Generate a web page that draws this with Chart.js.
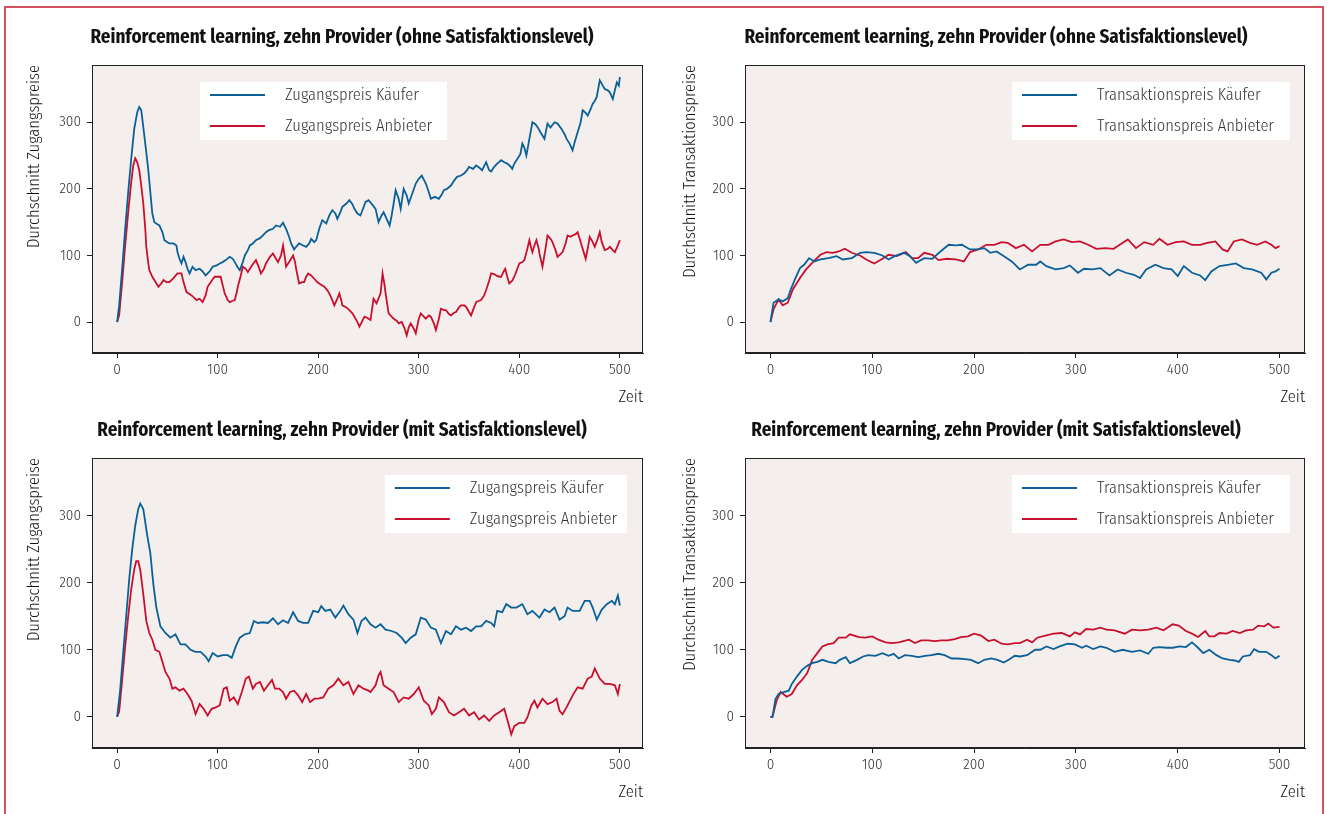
<!DOCTYPE html>
<html>
<head>
<meta charset="utf-8">
<script src="https://cdn.jsdelivr.net/npm/chart.js@4.4.1/dist/chart.umd.min.js"></script>
<style>
  body { margin: 0; width: 1330px; height: 814px; background: #fff; position: relative; overflow: hidden; }
  .frame { position: absolute; left: 4px; top: 6px; width: 1316px; height: 830px; border: 2px solid #d4505c; }
  canvas { position: absolute; }
</style>
</head>
<body>
<div class="frame"></div>
<canvas id="c1" width="665" height="410" style="left:0;top:0"></canvas>
<canvas id="c2" width="665" height="410" style="left:665px;top:0"></canvas>
<canvas id="c3" width="665" height="420" style="left:0;top:394px"></canvas>
<canvas id="c4" width="665" height="420" style="left:665px;top:394px"></canvas>
<script>
const xTicks = [0, 100, 200, 300, 400, 500];
const yTicks = [0, 100, 200, 300];

const titelOhne = 'Reinforcement learning, zehn Provider (ohne Satisfaktionslevel)';
const titelMit = 'Reinforcement learning, zehn Provider (mit Satisfaktionslevel)';

// [Zeit, Wert] – oben links
const zugKaeuferOhne = [[0,0],[2,25],[5,80],[8,140],[11,195],[14,245],[17,290],[20,315],[22,323],[24,318],[26,293],[29,255],[31,228],[33,195],[35,163],[37,150],[40,147],[42,145],[45,135],[47,123],[50,120],[52,118],[56,118],[59,115],[60,105],[62,95],[64,88],[66,98],[68,90],[70,80],[72,73],[75,83],[78,78],[82,80],[85,76],[88,70],[92,76],[95,83],[99,85],[102,88],[105,90],[108,93],[112,98],[115,95],[117,90],[120,82],[122,78],[125,90],[127,100],[130,108],[132,115],[135,118],[138,123],[142,126],[145,130],[148,135],[151,138],[155,140],[158,145],[162,143],[165,149],[168,140],[171,128],[173,118],[176,109],[178,113],[181,118],[185,115],[188,113],[191,118],[193,125],[196,120],[198,123],[201,140],[204,153],[208,148],[211,160],[214,168],[217,163],[219,155],[222,165],[224,173],[228,178],[231,183],[234,177],[236,170],[239,163],[242,160],[245,172],[247,180],[250,183],[254,176],[257,170],[260,150],[263,160],[265,165],[268,155],[271,145],[273,160],[275,178],[277,198],[280,185],[282,170],[285,200],[288,190],[290,178],[294,195],[297,208],[300,215],[303,220],[305,214],[307,208],[310,195],[312,185],[316,188],[320,185],[323,192],[325,198],[328,200],[332,205],[335,212],[338,218],[342,220],[345,223],[348,228],[350,233],[354,230],[357,235],[360,232],[363,228],[365,234],[367,240],[370,228],[372,226],[375,233],[378,238],[382,243],[385,240],[388,238],[391,234],[393,230],[395,238],[398,245],[401,252],[403,268],[405,262],[407,250],[410,275],[413,300],[416,297],[418,293],[421,285],[423,280],[425,275],[428,298],[431,292],[435,300],[438,298],[442,290],[445,282],[447,275],[450,268],[453,258],[455,270],[458,285],[461,300],[463,318],[466,314],[468,310],[471,320],[473,328],[475,332],[477,338],[480,363],[483,355],[485,350],[488,348],[490,345],[493,335],[495,348],[497,360],[499,355],[500,368]];
const zugAnbieterOhne = [[0,0],[2,10],[5,60],[8,115],[11,165],[14,210],[16,235],[18,246],[20,240],[22,228],[24,205],[26,178],[28,140],[29,113],[31,88],[32,78],[35,68],[37,63],[41,53],[44,58],[46,63],[49,60],[52,60],[56,66],[60,73],[64,73],[66,60],[69,45],[72,42],[74,40],[77,36],[79,33],[82,35],[85,30],[88,40],[90,53],[94,62],[97,68],[100,68],[103,68],[105,55],[107,43],[110,33],[112,30],[115,32],[117,33],[119,45],[120,53],[123,70],[125,83],[128,80],[130,75],[134,85],[138,93],[141,82],[143,73],[146,80],[148,88],[152,98],[155,103],[158,95],[160,90],[163,100],[165,115],[167,95],[168,83],[171,90],[175,100],[177,90],[178,80],[180,65],[181,58],[184,60],[186,60],[188,68],[190,73],[193,70],[196,65],[199,60],[201,58],[204,55],[206,53],[209,48],[211,43],[214,33],[216,25],[219,35],[221,43],[223,32],[224,25],[228,22],[231,18],[234,13],[236,8],[239,0],[241,-7],[244,2],[246,8],[249,6],[252,3],[255,35],[258,28],[262,43],[264,73],[266,55],[267,43],[270,13],[273,8],[275,5],[278,2],[280,-2],[283,0],[286,-10],[288,-20],[290,-8],[292,-2],[295,-10],[297,-17],[300,5],[302,13],[305,8],[307,5],[310,10],[312,8],[315,-2],[317,-12],[320,5],[322,20],[325,18],[327,18],[330,12],[332,10],[335,14],[337,15],[340,22],[342,25],[345,25],[347,23],[350,15],[352,10],[355,22],[357,30],[360,32],[362,33],[365,40],[367,48],[370,62],[372,73],[375,72],[377,70],[380,68],[382,68],[384,75],[386,80],[388,68],[390,58],[393,62],[395,68],[398,80],[400,88],[403,90],[405,93],[408,110],[410,123],[412,110],[413,105],[415,115],[417,123],[419,112],[420,103],[422,90],[423,83],[426,110],[428,130],[431,125],[433,120],[436,108],[438,98],[441,102],[443,105],[446,118],[448,130],[451,128],[453,130],[456,132],[458,135],[460,125],[462,115],[464,105],[466,95],[468,110],[470,128],[473,120],[475,113],[478,125],[480,135],[482,120],[485,108],[488,110],[490,113],[493,108],[495,105],[498,115],[500,123]];

// oben rechts
const transKaeuferOhne = [[0,0],[3,29],[8,34],[12,31],[17,36],[20,49],[24,64],[29,81],[33,86],[38,96],[43,91],[49,94],[57,96],[65,99],[71,94],[80,96],[88,104],[94,105],[102,104],[110,100],[116,94],[122,99],[131,104],[137,99],[143,89],[151,96],[159,95],[167,106],[175,116],[182,115],[188,116],[196,109],[204,109],[210,111],[216,104],[222,106],[229,99],[237,91],[245,79],[253,86],[261,86],[265,91],[271,84],[280,79],[288,81],[294,85],[302,74],[308,80],[316,79],[324,81],[333,70],[341,79],[349,74],[357,71],[363,66],[369,79],[378,86],[386,81],[394,79],[400,69],[406,84],[414,74],[422,70],[427,63],[433,76],[441,84],[449,86],[457,88],[465,81],[473,79],[482,74],[487,64],[492,74],[496,76],[500,80]];
const transAnbieterOhne = [[0,0],[3,19],[8,34],[12,25],[17,29],[22,49],[29,66],[35,79],[41,89],[49,101],[55,105],[61,104],[67,106],[73,110],[80,104],[88,100],[94,94],[102,88],[110,95],[116,101],[124,99],[133,105],[139,96],[145,96],[151,104],[159,101],[165,93],[173,95],[182,94],[190,91],[196,105],[204,109],[212,116],[220,116],[227,120],[233,119],[241,111],[249,116],[257,106],[265,116],[273,116],[280,121],[288,124],[296,120],[304,121],[312,116],[320,110],[329,111],[337,110],[343,116],[351,124],[359,111],[367,120],[376,116],[382,125],[390,116],[398,120],[406,121],[414,116],[422,116],[429,119],[437,121],[444,109],[449,106],[455,121],[463,124],[471,119],[478,116],[486,121],[492,116],[496,111],[500,114]];

// unten links
const zugKaeuferMit = [[0,0],[3,40],[6,95],[9,150],[12,205],[15,250],[18,285],[21,310],[23,318],[26,310],[28,290],[30,270],[33,244],[36,198],[39,163],[43,135],[48,125],[53,118],[58,123],[63,108],[68,108],[73,100],[78,97],[83,97],[88,90],[91,83],[95,95],[100,90],[105,92],[110,92],[114,88],[118,105],[122,118],[127,123],[132,125],[136,143],[140,140],[145,141],[150,140],[155,147],[160,138],[165,144],[170,140],[175,156],[180,143],[185,140],[190,140],[195,158],[200,156],[203,165],[207,158],[212,160],[217,148],[222,158],[225,166],[230,153],[235,145],[239,125],[243,143],[247,148],[252,138],[257,133],[262,138],[267,130],[273,128],[278,125],[283,118],[287,110],[292,118],[297,123],[302,148],[307,145],[312,133],[317,130],[322,110],[327,128],[332,123],[337,135],[342,130],[347,133],[352,128],[357,135],[362,135],[367,143],[372,140],[375,135],[378,158],[383,156],[387,168],[392,163],[397,163],[403,168],[408,153],[413,158],[420,148],[425,160],[430,156],[435,163],[440,145],[445,150],[448,163],[453,158],[460,158],[465,173],[470,173],[473,163],[477,145],[482,160],[487,168],[492,173],[495,168],[498,181],[500,166]];
const zugAnbieterMit = [[0,0],[2,8],[5,55],[8,105],[11,150],[14,190],[17,220],[19,232],[21,232],[23,219],[26,183],[29,143],[32,125],[35,115],[38,100],[42,97],[45,82],[48,67],[52,57],[55,42],[58,44],[62,39],[66,42],[70,34],[74,24],[78,4],[82,19],[86,12],[90,2],[94,12],[98,14],[102,17],[106,42],[109,44],[112,24],[116,29],[120,19],[124,37],[128,57],[131,60],[135,42],[138,49],[142,52],[146,39],[150,47],[154,55],[157,42],[161,42],[165,37],[168,27],[172,37],[176,39],[180,32],[184,22],[188,34],[192,22],[196,27],[200,27],[205,29],[210,42],[215,47],[220,57],[225,47],[230,52],[235,34],[240,47],[245,42],[250,39],[252,37],[257,47],[260,62],[262,67],[265,47],[270,42],[275,37],[280,22],[285,29],[290,27],[295,34],[300,44],[305,24],[310,17],[313,4],[317,12],[320,29],[325,22],[330,7],[335,2],[340,7],[345,12],[350,2],[355,7],[360,-4],[365,2],[370,-6],[375,2],[380,7],[385,12],[388,-4],[392,-26],[395,-14],[400,-9],[405,-9],[408,-1],[412,17],[415,24],[418,14],[423,27],[428,19],[433,22],[437,27],[440,9],[443,4],[448,17],[453,32],[458,44],[463,42],[468,57],[472,60],[475,72],[480,57],[485,49],[490,49],[495,47],[498,34],[500,49]];

// unten rechts
const transKaeuferMit = [[0,0],[2,0],[5,27],[8,34],[13,37],[18,39],[21,49],[26,60],[31,70],[36,76],[41,80],[46,82],[51,85],[57,82],[64,80],[68,85],[74,89],[78,80],[85,85],[91,90],[96,92],[103,91],[110,95],[116,91],[121,94],[126,87],[132,92],[139,91],[145,89],[152,91],[158,92],[165,94],[171,92],[178,87],[184,87],[191,86],[197,85],[204,80],[210,85],[217,87],[223,85],[229,81],[234,85],[240,91],[245,90],[252,92],[260,100],[265,100],[271,105],[278,101],[284,105],[292,109],[299,108],[306,103],[310,106],[317,101],[324,105],[330,103],[338,97],[346,100],[355,97],[363,99],[371,94],[376,103],[382,104],[389,103],[395,103],[402,105],[408,104],[414,111],[420,103],[425,95],[431,100],[438,92],[444,87],[451,85],[456,84],[460,82],[464,90],[471,92],[475,101],[480,97],[487,97],[492,92],[496,87],[500,91]];
const transAnbieterMit = [[0,0],[2,0],[6,24],[10,37],[16,30],[21,34],[26,47],[31,55],[36,65],[41,85],[46,95],[51,105],[56,108],[62,110],[67,118],[74,118],[78,123],[87,119],[93,118],[100,120],[106,115],[113,111],[119,110],[126,111],[136,115],[142,110],[148,114],[155,114],[161,113],[168,114],[174,114],[181,116],[187,119],[194,120],[200,124],[207,121],[214,113],[220,115],[227,109],[233,108],[240,110],[245,110],[252,115],[257,111],[262,118],[270,121],[278,124],[286,125],[294,120],[299,126],[304,123],[310,131],[317,130],[324,133],[330,130],[338,129],[348,124],[355,130],[363,129],[371,130],[379,133],[386,129],[395,138],[401,136],[408,128],[414,124],[420,119],[427,128],[431,120],[436,120],[441,125],[448,124],[454,128],[461,125],[467,129],[474,130],[479,136],[485,135],[489,139],[494,133],[500,134]];

const BLAU = '#0b6197';
const ROT = '#c8102e';
const HINTERGRUND = '#f4efed';
const SCHRIFT = "'Fira Sans Condensed', 'Liberation Sans Narrow', 'Noto Sans Condensed', 'DejaVu Sans Condensed', sans-serif";
const TEXTFARBE = '#333';

// Hintergrund, Rahmen, Titel und Legende im Plotbereich
const panelPlugin = {
  id: 'panel',
  beforeDraw(chart, args, opts) {
    const { ctx, chartArea: a } = chart;
    ctx.save();
    ctx.fillStyle = HINTERGRUND;
    ctx.fillRect(a.left, a.top, a.right - a.left, a.bottom - a.top);
    ctx.restore();
  },
  afterDraw(chart, args, opts) {
    const { ctx, chartArea: a } = chart;
    ctx.save();
    ctx.strokeStyle = '#222';
    ctx.lineWidth = 1;
    ctx.strokeRect(Math.round(a.left) + 0.5, Math.round(a.top) + 0.5,
      Math.round(a.right - a.left) - 1, Math.round(a.bottom - a.top) - 1);

    // Titel
    ctx.fillStyle = '#111';
    ctx.font = 'bold 19px ' + SCHRIFT;
    ctx.textAlign = 'center';
    ctx.textBaseline = 'middle';
    ctx.fillText(opts.title, opts.titleX, opts.titleY);

    // Legende
    ctx.font = '300 16.5px ' + SCHRIFT;
    const ds = chart.data.datasets;
    const textW = Math.max(...ds.map(d => ctx.measureText(d.label).width));
    const w = Math.max(opts.legendW, 85 + textW + 10);
    const h = 58;
    let x = a.left + opts.legendX;
    if (opts.anchorRight) x = a.left + opts.legendX + opts.legendW - w;
    const y = a.top + 17;
    ctx.fillStyle = '#fff';
    ctx.fillRect(x, y, w, h);
    ds.forEach((d, i) => {
      const ly = y + 13 + i * 31;
      ctx.strokeStyle = d.borderColor;
      ctx.lineWidth = 2;
      ctx.beginPath();
      ctx.moveTo(x + 10, ly);
      ctx.lineTo(x + 65, ly);
      ctx.stroke();
      ctx.fillStyle = TEXTFARBE;
      ctx.textAlign = 'left';
      ctx.fillText(d.label, x + 85, ly);
    });
    ctx.restore();
  },
};

function achse(werte, min, max, titel, fitKey, fitVal) {
  return {
    type: 'linear',
    min: min,
    max: max,
    afterBuildTicks: (axis) => { axis.ticks = werte.map(v => ({ value: v })); },
    afterFit: (scale) => { scale[fitKey] = fitVal; },
    grid: { drawOnChartArea: false, drawTicks: true, tickLength: 5, color: '#222' },
    border: { display: true, color: '#222', width: 1 },
    ticks: { font: { family: SCHRIFT, size: 15, weight: 300 }, color: TEXTFARBE, padding: fitKey === 'width' ? 6 : 3, maxRotation: 0 },
    title: {
      display: true, text: titel, align: 'end', color: '#111',
      font: { family: SCHRIFT, size: 16.5, weight: 300 },
      padding: fitKey === 'width' ? { top: 2, bottom: 0 } : { top: 0, bottom: 0 },
    },
  };
}

function zeichne(id, cfg) {
  const ctx = document.getElementById(id).getContext('2d');
  return new Chart(ctx, {
    type: 'line',
    data: {
      datasets: cfg.series.map(s => ({
        label: s.label,
        data: s.data.map(p => ({ x: p[0], y: p[1] })),
        borderColor: s.color,
        borderWidth: 1.8,
        pointRadius: 0,
        tension: 0,
        fill: false,
      })),
    },
    options: {
      responsive: false,
      animation: false,
      devicePixelRatio: 1,
      parsing: false,
      layout: { padding: cfg.pad },
      plugins: {
        legend: { display: false },
        title: { display: false },
        tooltip: { enabled: false },
        panel: {
          title: cfg.title, titleX: cfg.titleX, titleY: cfg.titleY,
          legendX: cfg.legendX, legendW: cfg.legendW, anchorRight: cfg.anchorRight,
        },
      },
      scales: {
        x: achse(xTicks, -25, cfg.xMax, 'Zeit', 'height', 54),
        y: achse(yTicks, -46.5, 386, cfg.yLabel, 'width', cfg.yWidth),
      },
    },
    plugins: [panelPlugin],
  });
}

zeichne('c1', {
  title: titelOhne, titleX: 342, titleY: 38,
  yLabel: 'Durchschnitt Zugangspreise', yWidth: 70, xMax: 523,
  pad: { left: 22, top: 65, right: 22, bottom: 3 },
  legendX: 108, legendW: 247, anchorRight: false,
  series: [
    { label: 'Zugangspreis Käufer', data: zugKaeuferOhne, color: BLAU },
    { label: 'Zugangspreis Anbieter', data: zugAnbieterOhne, color: ROT },
  ],
});

zeichne('c2', {
  title: titelOhne, titleX: 331, titleY: 38,
  yLabel: 'Durchschnitt Transaktionspreise', yWidth: 67, xMax: 525,
  pad: { left: 13, top: 65, right: 25, bottom: 3 },
  legendX: 267, legendW: 278, anchorRight: true,
  series: [
    { label: 'Transaktionspreis Käufer', data: transKaeuferOhne, color: BLAU },
    { label: 'Transaktionspreis Anbieter', data: transAnbieterOhne, color: ROT },
  ],
});

zeichne('c3', {
  title: titelMit, titleX: 342, titleY: 37,
  yLabel: 'Durchschnitt Zugangspreise', yWidth: 70, xMax: 523,
  pad: { left: 22, top: 64, right: 22, bottom: 12 },
  legendX: 294, legendW: 241, anchorRight: true,
  series: [
    { label: 'Zugangspreis Käufer', data: zugKaeuferMit, color: BLAU },
    { label: 'Zugangspreis Anbieter', data: zugAnbieterMit, color: ROT },
  ],
});

zeichne('c4', {
  title: titelMit, titleX: 331, titleY: 37,
  yLabel: 'Durchschnitt Transaktionspreise', yWidth: 67, xMax: 525,
  pad: { left: 13, top: 64, right: 25, bottom: 12 },
  legendX: 267, legendW: 278, anchorRight: true,
  series: [
    { label: 'Transaktionspreis Käufer', data: transKaeuferMit, color: BLAU },
    { label: 'Transaktionspreis Anbieter', data: transAnbieterMit, color: ROT },
  ],
});
</script>
</body>
</html>
